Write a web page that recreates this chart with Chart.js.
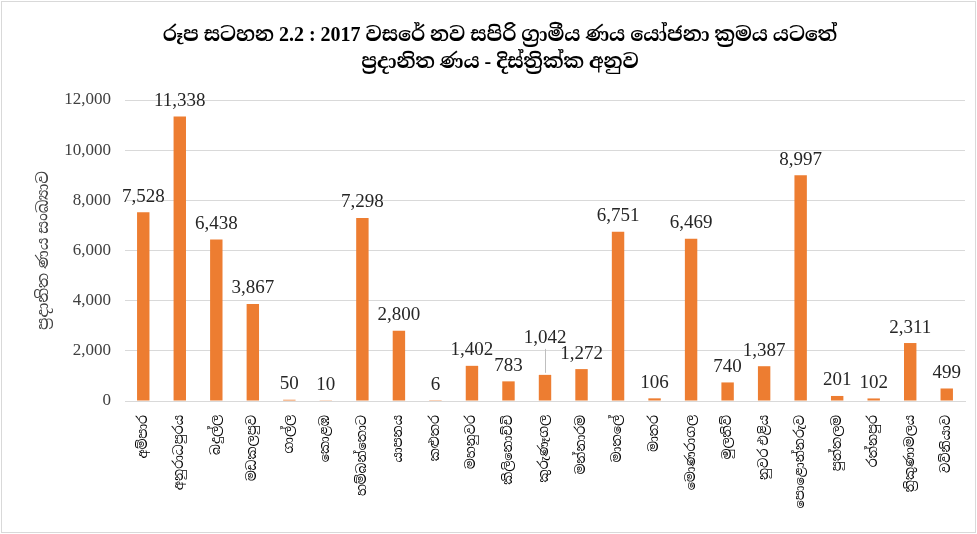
<!DOCTYPE html>
<html>
<head>
<meta charset="utf-8">
<script src="https://cdn.jsdelivr.net/npm/chart.js@4.4.1/dist/chart.umd.min.js"></script>
<style>
    html, body { margin: 0; padding: 0; background: #fff; }
    #wrap { width: 977px; height: 534px; position: relative; }
</style>
</head>
<body>
<div id="wrap"><canvas id="chart" width="977" height="534"></canvas></div>
<script>
// Districts (x axis)
const districts = [
    'අම්පාර', 'අනුරාධපුරය', 'බදුල්ල', 'මඩකලපුව', 'ගාල්ල', 'කොළඹ',
    'හම්බන්තොට', 'යාපනය', 'කළුතර', 'මහනුවර', 'කිලිනොච්චි', 'කුරුණෑගල',
    'මන්නාරම', 'මාතලේ', 'මාතර', 'මොණරාගල', 'මුලතිව්', 'නුවර එළිය',
    'පොළොන්නරුව', 'පුත්තලම', 'රත්නපුර', 'ත්‍රිකුණාමලය', 'වව්නියාව'
];

// Number of loans granted
const loans = [
    7528, 11338, 6438, 3867, 50, 10,
    7298, 2800, 6, 1402, 783, 1042,
    1272, 6751, 106, 6469, 740, 1387,
    8997, 201, 102, 2311, 499
];

const titleLines = [
    'රූප සටහන 2.2 : 2017 වසරේ නව සපිරි ග්‍රාමීය ණය යෝජනා ක්‍රමය යටතේ',
    'ප්‍රදානිත ණය - දිස්ත්‍රික්ක අනුව'
];
const yTitle = 'ප්‍රදානිත ණය සංඛ්‍යාව';

const serif = "'Liberation Serif', 'Noto Serif Sinhala', 'Noto Sans Sinhala', 'DejaVu Serif', serif";

const colors = {
    bar: '#ed7d31',
    grid: '#d9d9d9',
    text: '#262626',
    tick: '#404040'
};

// Outer border + title
const framePlugin = {
    id: 'frame',
    afterDraw(chart) {
        const ctx = chart.ctx;
        ctx.save();
        ctx.strokeStyle = '#d9d9d9';
        ctx.lineWidth = 1;
        ctx.strokeRect(1.5, 1.5, chart.width - 3, chart.height - 3);
        ctx.fillStyle = '#000';
        ctx.font = 'bold 20px ' + serif;
        ctx.textAlign = 'center';
        ctx.textBaseline = 'middle';
        ctx.fillText(titleLines[0], 500, 36);
        ctx.fillText(titleLines[1], 500, 63);
        ctx.restore();
    }
};

// Value labels above bars
const labelPlugin = {
    id: 'valueLabels',
    afterDatasetsDraw(chart) {
        const ctx = chart.ctx;
        const meta = chart.getDatasetMeta(0);
        ctx.save();
        ctx.font = '19px ' + serif;
        ctx.fillStyle = colors.text;
        ctx.textAlign = 'center';
        ctx.textBaseline = 'bottom';
        meta.data.forEach((bar, i) => {
            const txt = loans[i].toLocaleString('en-US');
            if (i === 11) {
                // Kurunegala label lifted with a leader line
                ctx.strokeStyle = '#bfbfbf';
                ctx.lineWidth = 1;
                ctx.beginPath();
                ctx.moveTo(bar.x + 0.5, bar.y - 2);
                ctx.lineTo(bar.x + 0.5, bar.y - 26);
                ctx.stroke();
                ctx.fillText(txt, bar.x, bar.y - 27);
            } else {
                ctx.fillText(txt, bar.x, bar.y - 6);
            }
        });
        ctx.restore();
    }
};

new Chart(document.getElementById('chart'), {
    type: 'bar',
    data: {
        labels: districts,
        datasets: [{
            data: loans,
            backgroundColor: colors.bar,
            barPercentage: 0.34,
            categoryPercentage: 1
        }]
    },
    options: {
        responsive: false,
        animation: false,
        layout: { padding: { top: 100, right: 12, left: 34, bottom: 2 } },
        plugins: {
            legend: { display: false },
            tooltip: { enabled: false },
            title: { display: false }
        },
        scales: {
            x: {
                grid: { display: false },
                border: { color: colors.grid },
                ticks: {
                    maxRotation: 90,
                    minRotation: 90,
                    autoSkip: false,
                    color: '#000',
                    padding: 6,
                    font: { family: serif, size: 13 }
                },
                afterFit(scale) { scale.height = 131; }
            },
            y: {
                min: 0,
                max: 12000,
                ticks: {
                    stepSize: 2000,
                    color: colors.tick,
                    padding: 14,
                    font: { family: serif, size: 17 },
                    callback: v => v.toLocaleString('en-US')
                },
                grid: { color: colors.grid, drawTicks: false },
                border: { display: false },
                title: {
                    display: true,
                    text: yTitle,
                    color: colors.tick,
                    font: { family: serif, size: 16 },
                    padding: { top: 0, bottom: 4 }
                },
                afterFit(scale) { scale.width = 91; }
            }
        }
    },
    plugins: [framePlugin, labelPlugin]
});
</script>
</body>
</html>
